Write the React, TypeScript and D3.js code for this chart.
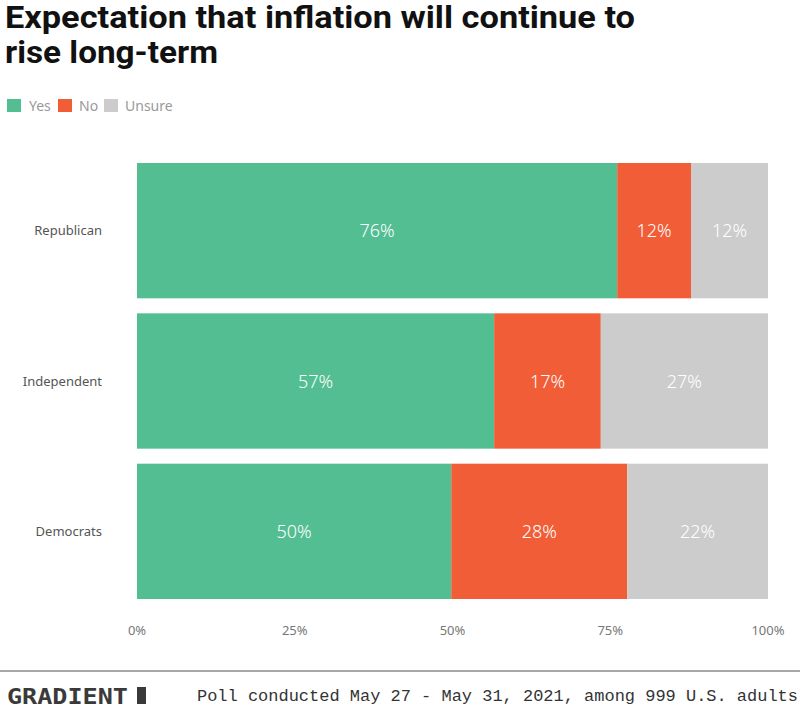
import React from "react";
import * as d3 from "d3";

const categories = ["Republican", "Independent", "Democrats"];
const yesValues = [76.1, 56.6, 49.8];
const noValues = [11.7, 16.9, 27.9];
const unsureValues = [12.2, 26.5, 22.3];
const yesLabels = ["76%", "57%", "50%"];
const noLabels = ["12%", "17%", "28%"];
const unsureLabels = ["12%", "27%", "22%"];
const seriesNames = ["Yes", "No", "Unsure"];
const seriesColors = ["#52BE92", "#F05D37", "#CCCCCC"];
const tickValues = [0, 25, 50, 75, 100];
const tickLabels = ["0%", "25%", "50%", "75%", "100%"];

const W = 800;
const H = 711;

export default function App() {
  const x = d3.scaleLinear().domain([0, 100]).range([137, 768]);
  const y = d3.scaleBand().domain(categories).range([163, 599]).paddingInner(0.1).paddingOuter(0);

  const rows = categories.map((c, i) => ({
    cat: c,
    yes: yesValues[i],
    no: noValues[i],
    unsure: unsureValues[i],
  }));
  const stack = d3.stack<any>().keys(["yes", "no", "unsure"]);
  const series = stack(rows);
  const labelSets = [yesLabels, noLabels, unsureLabels];

  const legendX = [7, 58, 104];
  const legendTextX = [29, 79, 125];

  return (
    <svg width={W} height={H} style={{ position: "absolute", left: 0, top: 0, background: "#fff" }}>
      <rect x={0} y={0} width={W} height={H} fill="#fff" />
      <g fontFamily="'Liberation Sans Narrow', 'Roboto', sans-serif" fontWeight={700} fontSize={31} fill="#111">
        <text x={5} y={28} textLength={630} lengthAdjust="spacingAndGlyphs">Expectation that inflation will continue to</text>
        <text x={5} y={63} textLength={213} lengthAdjust="spacingAndGlyphs">rise long-term</text>
      </g>
      <g fontFamily="'Noto Sans', sans-serif" fontSize={14} fill="#999">
        {seriesNames.map((s, i) => (
          <g key={s}>
            <rect x={legendX[i]} y={99} width={14} height={13} fill={seriesColors[i]} />
            <text x={legendTextX[i]} y={110.5}>{s}</text>
          </g>
        ))}
      </g>
      {series.map((s, si) => (
        <g key={si}>
          {s.map((d, i) => {
            const x0 = x(d[0]);
            const x1 = x(d[1]);
            const yy = y(categories[i])!;
            return (
              <g key={i}>
                <rect x={x0} y={yy} width={x1 - x0} height={y.bandwidth()} fill={seriesColors[si]} />
                <text
                  x={(x0 + x1) / 2}
                  y={yy + y.bandwidth() / 2 + 6.5}
                  textAnchor="middle"
                  fill="#fff"
                  fontFamily="'Noto Sans', sans-serif"
                  fontWeight={300}
                  fontSize={18}
                >
                  {labelSets[si][i]}
                </text>
              </g>
            );
          })}
        </g>
      ))}
      <g fontFamily="'Noto Sans', sans-serif" fontSize={13} fill="#555">
        {categories.map((c) => (
          <text key={c} x={102} y={y(c)! + y.bandwidth() / 2 + 4.5} textAnchor="end">{c}</text>
        ))}
      </g>
      <g fontFamily="'Noto Sans', sans-serif" fontSize={13} fill="#777">
        {tickValues.map((t, i) => (
          <text key={t} x={x(t)} y={635} textAnchor="middle">{tickLabels[i]}</text>
        ))}
      </g>
      <line x1={0} x2={W} y1={671} y2={671} stroke="#8a8a8a" strokeWidth={1.5} />
      <text x={7} y={704} fontFamily="'DejaVu Sans Mono', monospace" fontWeight={700} fontSize={22} fill="#3a3a3a" textLength={121} lengthAdjust="spacingAndGlyphs">GRADIENT</text>
      <rect x={137} y={687} width={9} height={17} fill="#3a3a3a" />
      <text x={197} y={701} fontFamily="'Liberation Mono', monospace" fontSize={16} fill="#333" textLength={601} lengthAdjust="spacingAndGlyphs">Poll conducted May 27 - May 31, 2021, among 999 U.S. adults</text>
    </svg>
  );
}
